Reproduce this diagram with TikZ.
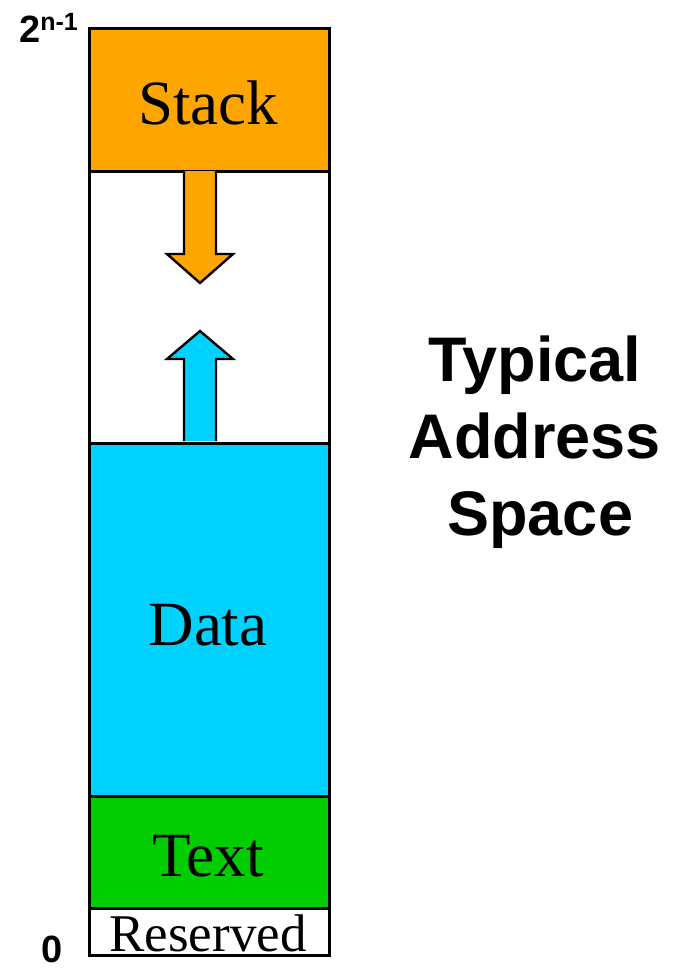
\documentclass[tikz,border=0pt]{standalone}
\usepackage{fontspec}
\setmainfont{Liberation Serif}
\newfontfamily\labelfont{Liberation Sans}
\definecolor{stackorange}{HTML}{FFA500}
\definecolor{datacyan}{HTML}{00D2FF}
\definecolor{textgreen}{HTML}{00CC00}
\begin{document}
\begin{tikzpicture}[x=1pt,y=-1pt,
  seg/.style={draw=black, line width=2.6pt, minimum width=240pt, inner sep=0pt, anchor=north west},
  seglabel/.style={font=\fontsize{63}{63}\selectfont, anchor=base, inner sep=0pt},
  growarrow/.style={draw=black, line width=2.4pt, line join=miter},
  axislabel/.style={font=\labelfont\bfseries\fontsize{38}{38}\selectfont, inner sep=0pt},
  title/.style={font=\labelfont\bfseries\fontsize{63}{77}\selectfont, align=center, inner sep=0pt}]
\useasboundingbox (0,0) rectangle (677,969);

% memory segments, top (high addresses) to bottom
\node[seg, fill=white, minimum height=272pt] (gap) at (88,170) {};
\node[seg, fill=stackorange, minimum height=143pt] (stack) at (88,27) {};
\node[seg, fill=datacyan, minimum height=353pt] (data) at (88,442) {};
\node[seg, fill=textgreen, minimum height=112pt] (text) at (88,795) {};
\node[seg, fill=white, minimum height=47pt] (reserved) at (88,907) {};

% segment names
\node[seglabel] (stacklbl) at (208,124) {Stack};
\node[seglabel] (datalbl) at (208,645) {Data};
\node[seglabel] (textlbl) at (208,876) {Text};
\node[seglabel, font=\fontsize{53}{53}\selectfont] (reservedlbl) at (208,951) {Reserved};

% growth directions: stack downwards, heap upwards
\draw[growarrow, fill=stackorange]
  (184,171) -- (184,254) -- (167,254) -- (200,283) -- (233,254) -- (216,254) -- (216,171);
\draw[growarrow, fill=datacyan]
  (184,441) -- (184,359) -- (167,359) -- (200,331) -- (233,359) -- (216,359) -- (216,441);

% address range
\node[axislabel, anchor=base west] (top) at (19,42) {2\raisebox{12pt}{\fontsize{25}{25}\selectfont n-1}};
\node[axislabel, anchor=base west] (bottom) at (41,962) {0};

% caption
\node[title] (caption) at (535,442) {Typical\\Address\\\,Space};
\end{tikzpicture}
\end{document}
